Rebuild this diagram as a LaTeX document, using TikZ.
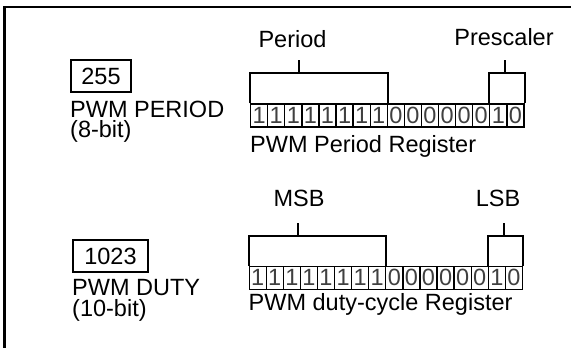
\documentclass[tikz,border=0pt]{standalone}
\usepackage{fontspec}
\setmainfont{Liberation Sans}
\usetikzlibrary{positioning}

\begin{document}
\begin{tikzpicture}[x=1pt,y=-1pt,
  lbl/.style={font=\fontsize{23.5}{20}\selectfont, inner sep=0pt},
  valbox/.style={lbl, draw, line width=2pt, minimum height=32pt},
  bitcell/.style={draw, line width=1.3pt, inner sep=0pt, minimum width=17.08pt,
    minimum height=23pt, font=\fontsize{23.5}{20}\selectfont, text=black!75},
  brace/.style={line width=2pt}]
\useasboundingbox (0,0) rectangle (571,348);
% frame
\draw[line width=2.5pt] (571,7) -- (4.5,7) -- (4.5,348);

% period
\node[valbox, minimum width=60pt, anchor=north west] (perval) at (70,59) {255};
\node[lbl, anchor=base west] (pername) at (70,117.5) {PWM PERIOD};
\node[lbl, anchor=base west] (perbits) at (70,137.5) {(8-bit)};

\foreach \b [count=\i] in {1,1,1,1,1,1,1,1,0,0,0,0,0,0,1,0}
  \node[bitcell, anchor=north west] (pr\i) at ({250+17.08*(\i-1)},103.3) {\b};
\node[lbl, anchor=base west] (prreg) at (250,152) {PWM Period Register};

\draw[brace] (pr1.north west) -- ++(0,-30) -| (pr8.north east);
\draw[brace] (pr15.north west) -- ++(0,-30) -| (pr16.north east);
\node[lbl, anchor=base] (prhigh) at (292.5,47) {Period};
\node[lbl, anchor=base] (prlow) at (504,45.5) {Prescaler};
\coordinate (prhightick) at (299,73.3);
\coordinate (prlowtick) at (505,73.3);
\draw[brace] (prhightick) -- ++(0,-13);
\draw[brace] (prlowtick) -- ++(0,-13);

% duty cycle
\node[valbox, minimum width=75pt, anchor=north west] (dcval) at (72,239) {1023};
\node[lbl, anchor=base west] (dcname) at (72,295.5) {PWM DUTY};
\node[lbl, anchor=base west] (dcbits) at (72,316.5) {(10-bit)};

\foreach \b [count=\i] in {1,1,1,1,1,1,1,1,0,0,0,0,0,0,1,0}
  \node[bitcell, anchor=north west] (dc\i) at ({248.5+17.08*(\i-1)},265.7) {\b};
\node[lbl, anchor=base west] (dcreg) at (248.5,310) {PWM duty-cycle Register};

\draw[brace] (dc1.north west) -- ++(0,-30) -| (dc8.north east);
\draw[brace] (dc15.north west) -- ++(0,-30) -| (dc16.north east);
\node[lbl, anchor=base] (dchigh) at (299,206.7) {MSB};
\node[lbl, anchor=base] (dclow) at (498,206.7) {LSB};
\coordinate (dchightick) at (298.3,235.7);
\coordinate (dclowtick) at (504,235.7);
\draw[brace] (dchightick) -- ++(0,-13);
\draw[brace] (dclowtick) -- ++(0,-13);
\end{tikzpicture}
\end{document}
